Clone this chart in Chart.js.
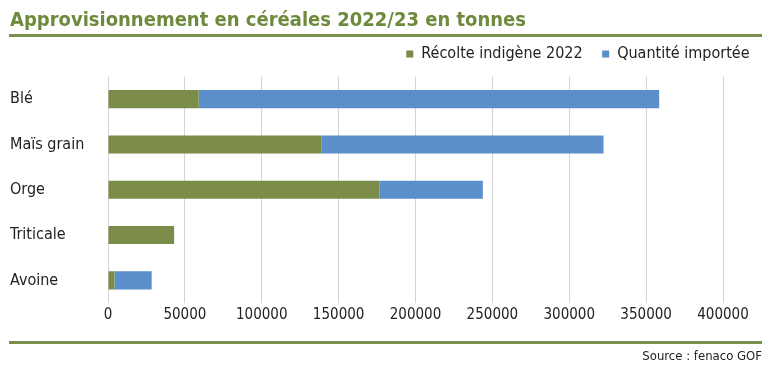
<!DOCTYPE html>
<html>
<head>
<meta charset="utf-8">
<script src="https://cdn.jsdelivr.net/npm/chart.js@4.4.0/dist/chart.umd.min.js"></script>
<style>
  html, body { margin: 0; padding: 0; background: #fff; }
  #wrap { width: 769px; height: 375px; position: relative; }
</style>
</head>
<body>
<div id="wrap"><canvas id="cereales"></canvas></div>
<script>
var categories = ['Blé', 'Maïs grain', 'Orge', 'Triticale', 'Avoine'];
var recolte = [59000, 139000, 176500, 43000, 4200];
var importee = [299500, 183300, 67300, 0, 24200];
var xTicks = [0, 50000, 100000, 150000, 200000, 250000, 300000, 350000, 400000];

var green = '#7a8c47';
var blue = '#5a8fcb';
var font = "'Liberation Sans Narrow', 'DejaVu Sans Condensed', sans-serif";

// lignes vertes + source
var decor = {
  id: 'decor',
  afterDraw: function(chart) {
    var c = chart.ctx;
    c.save();
    c.fillStyle = '#7b8f4e';
    c.fillRect(9, 34, 753, 3);
    c.fillRect(9, 341, 753, 3);
    c.fillStyle = '#222';
    c.font = "13px " + font;
    c.textAlign = 'right';
    c.textBaseline = 'middle';
    c.fillText('Source : fenaco GOF', 762, 357);
    c.restore();
  }
};

// un peu plus d'espace sous la légende
var legendGap = {
  id: 'legendGap',
  afterInit: function(chart) {
    var lg = chart.legend;
    if (!lg) return;
    var fit = lg.fit;
    lg.fit = function() { fit.call(this); this.height += 4.5; };
  }
};

new Chart(document.getElementById('cereales'), {
  type: 'bar',
  data: {
    labels: categories,
    datasets: [{
      label: 'Récolte indigène 2022',
      data: recolte,
      backgroundColor: green,
      barPercentage: 0.4,
      categoryPercentage: 1
    }, {
      label: 'Quantité importée',
      data: importee,
      backgroundColor: blue,
      barPercentage: 0.4,
      categoryPercentage: 1
    }]
  },
  plugins: [decor, legendGap],
  options: {
    responsive: true,
    maintainAspectRatio: false,
    animation: false,
    indexAxis: 'y',
    layout: { padding: { left: 10, right: 0, top: 6, bottom: 48 } },
    plugins: {
      title: {
        display: true,
        text: 'Approvisionnement en céréales 2022/23 en tonnes',
        align: 'start',
        color: '#6e8a3d',
        font: { family: font, size: 20, weight: 'bold' },
        padding: { top: 3, bottom: -6.5 }
      },
      legend: {
        position: 'top',
        align: 'end',
        labels: {
          boxWidth: 7,
          boxHeight: 7,
          color: '#222',
          font: { family: font, size: 16 },
          padding: 19.5
        }
      },
      tooltip: { enabled: false }
    },
    scales: {
      x: {
        stacked: true,
        min: 0,
        max: 400000,
        afterBuildTicks: function(s) { s.ticks = xTicks.map(function(v) { return { value: v }; }); },
        afterFit: function(s) { s.paddingRight = 46; },
        grid: { color: '#d4d4d4', drawTicks: false },
        border: { display: false },
        ticks: {
          color: '#222',
          padding: 3,
          maxRotation: 0,
          font: { family: font, size: 15 },
          callback: function(v) { return String(v); }
        }
      },
      y: {
        stacked: true,
        afterFit: function(s) { s.width = 98; },
        grid: { display: false },
        border: { display: false },
        ticks: {
          color: '#222',
          crossAlign: 'far',
          font: { family: font, size: 16 }
        }
      }
    }
  }
});
</script>
</body>
</html>
